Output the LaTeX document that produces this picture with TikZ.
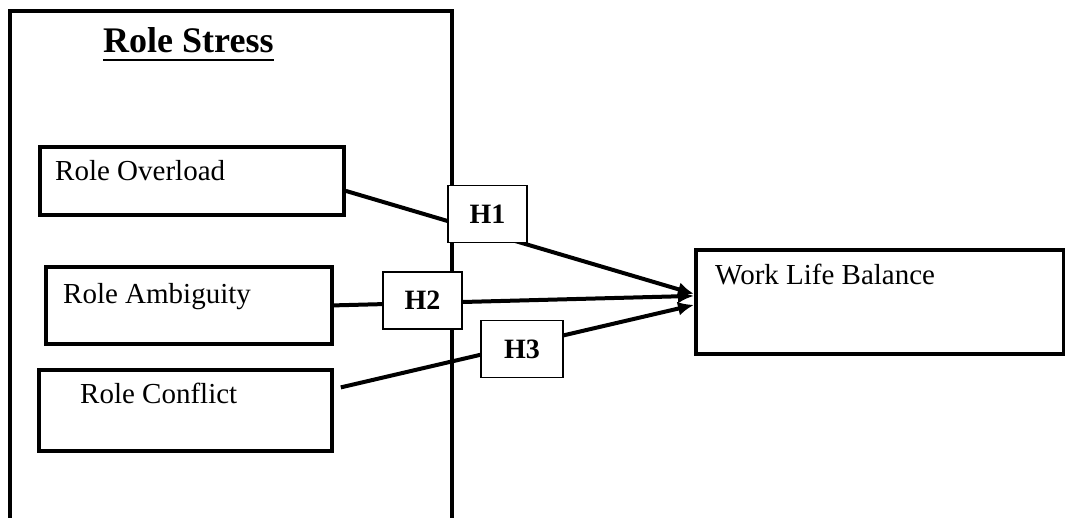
\documentclass[tikz,border=0pt]{standalone}
\usepackage{fontspec}
\setmainfont{Liberation Serif}
\usetikzlibrary{arrows.meta}

\begin{document}
\begin{tikzpicture}[x = 1pt, y = -1pt, > = {Latex[length = 16pt, width = 14pt]}]

	% Styles

	\tikzset{
		varbox/.style = {draw, line width = 3.8pt, minimum width = #1, anchor = north west, inner sep = 0},
		hypbox/.style = {draw, fill = white, line width = 1.2pt, minimum width = 79, minimum height = 57,
			font = \fontsize{28}{30}\selectfont\bfseries},
		boxtext/.style = {anchor = base west, inner sep = 0, font = \fontsize{29}{32}\selectfont},
		link/.style = {->, line width = 4pt}
	}

	\useasboundingbox (0, 0) rectangle (1065, 518);

	% Role stress frame, open at the bottom

	\draw [line width = 3.8pt] (10, 525) -- (10, 11) -- (452, 11) -- (452, 525);
	\node [anchor = base west, inner sep = 0, font = \fontsize{36}{40}\selectfont\bfseries] (title) at (103, 53) {Role Stress};
	\draw [line width = 2pt] ([yshift = -7pt] title.base west) -- ([yshift = -7pt] title.base east);

	% Variables

	\node [varbox = 304, minimum height = 68] (ro) at (38, 145) {};
	\node [varbox = 286, minimum height = 77] (ra) at (44, 265) {};
	\node [varbox = 293, minimum height = 81] (rc) at (37, 368) {};
	\node [varbox = 368, minimum height = 104] (wlb) at (694, 248) {};

	\node [boxtext] at (55, 181) {Role Overload};
	\node [boxtext] at (63, 304) {Role Ambiguity};
	\node [boxtext] at (80, 403) {Role Conflict};
	\node [boxtext] at (715, 285) {Work Life Balance};

	% Hypotheses

	\draw [link] ([yshift = -10pt] ro.east) -- ([yshift = 8pt] wlb.west);
	\draw [link] (ra.east) -- ([yshift = 6pt] wlb.west);
	\draw [link] ([xshift = 7pt, yshift = 23pt] rc.east) -- ([yshift = -3pt] wlb.west);

	\node [hypbox] (h1) at (487.5, 214) {H1};
	\node [hypbox] (h2) at (422.5, 300.5) {H2};
	\node [hypbox, minimum width = 82] (h3) at (522, 349) {H3};

\end{tikzpicture}
\end{document}
